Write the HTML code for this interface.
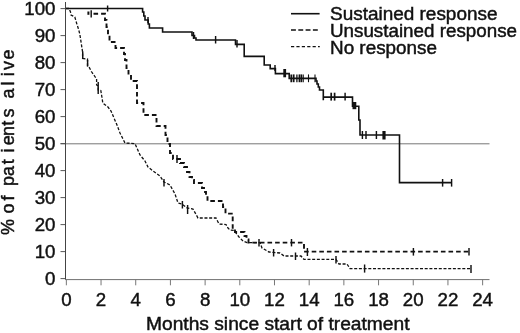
<!DOCTYPE html>
<html><head><meta charset="utf-8"><title>Survival</title>
<style>
html,body{margin:0;padding:0;background:#fff;}
svg{display:block;font-family:"Liberation Sans",sans-serif;font-size:18px;fill:#111;will-change:transform;}
text{stroke:#111;stroke-width:0.45px;}
</style></head><body>
<svg width="520" height="333" viewBox="0 0 520 333">
<rect width="520" height="333" fill="#fff"/>
<line x1="60.5" y1="143.8" x2="489.5" y2="143.8" stroke="#777" stroke-width="1"/>
<line x1="65.5" y1="2" x2="65.5" y2="279.8" stroke="#444" stroke-width="1"/>
<line x1="65.5" y1="279.6" x2="489.5" y2="279.6" stroke="#707070" stroke-width="1"/>
<line x1="60.5" y1="8.60" x2="65.5" y2="8.60" stroke="#444" stroke-width="0.9"/>
<text x="55.5" y="15.40" text-anchor="end" font-size="18.7">100</text>
<line x1="60.5" y1="35.60" x2="65.5" y2="35.60" stroke="#444" stroke-width="0.9"/>
<text x="55.5" y="42.40" text-anchor="end" font-size="18.7">90</text>
<line x1="60.5" y1="62.60" x2="65.5" y2="62.60" stroke="#444" stroke-width="0.9"/>
<text x="55.5" y="69.40" text-anchor="end" font-size="18.7">80</text>
<line x1="60.5" y1="89.60" x2="65.5" y2="89.60" stroke="#444" stroke-width="0.9"/>
<text x="55.5" y="96.40" text-anchor="end" font-size="18.7">70</text>
<line x1="60.5" y1="116.60" x2="65.5" y2="116.60" stroke="#444" stroke-width="0.9"/>
<text x="55.5" y="123.40" text-anchor="end" font-size="18.7">60</text>
<line x1="60.5" y1="143.60" x2="65.5" y2="143.60" stroke="#444" stroke-width="0.9"/>
<text x="55.5" y="150.40" text-anchor="end" font-size="18.7">50</text>
<line x1="60.5" y1="170.60" x2="65.5" y2="170.60" stroke="#444" stroke-width="0.9"/>
<text x="55.5" y="177.40" text-anchor="end" font-size="18.7">40</text>
<line x1="60.5" y1="197.60" x2="65.5" y2="197.60" stroke="#444" stroke-width="0.9"/>
<text x="55.5" y="204.40" text-anchor="end" font-size="18.7">30</text>
<line x1="60.5" y1="224.60" x2="65.5" y2="224.60" stroke="#444" stroke-width="0.9"/>
<text x="55.5" y="231.40" text-anchor="end" font-size="18.7">20</text>
<line x1="60.5" y1="251.60" x2="65.5" y2="251.60" stroke="#444" stroke-width="0.9"/>
<text x="55.5" y="258.40" text-anchor="end" font-size="18.7">10</text>
<line x1="60.5" y1="278.60" x2="65.5" y2="278.60" stroke="#444" stroke-width="0.9"/>
<text x="55.5" y="285.40" text-anchor="end" font-size="18.7">0</text>
<line x1="66.35" y1="279.5" x2="66.35" y2="285.3" stroke="#777" stroke-width="1"/>
<text x="66.35" y="306" text-anchor="middle" font-size="18.7">0</text>
<line x1="101.04" y1="279.5" x2="101.04" y2="285.3" stroke="#777" stroke-width="1"/>
<text x="101.04" y="306" text-anchor="middle" font-size="18.7">2</text>
<line x1="135.73" y1="279.5" x2="135.73" y2="285.3" stroke="#777" stroke-width="1"/>
<text x="135.73" y="306" text-anchor="middle" font-size="18.7">4</text>
<line x1="170.42" y1="279.5" x2="170.42" y2="285.3" stroke="#777" stroke-width="1"/>
<text x="170.42" y="306" text-anchor="middle" font-size="18.7">6</text>
<line x1="205.11" y1="279.5" x2="205.11" y2="285.3" stroke="#777" stroke-width="1"/>
<text x="205.11" y="306" text-anchor="middle" font-size="18.7">8</text>
<line x1="239.80" y1="279.5" x2="239.80" y2="285.3" stroke="#777" stroke-width="1"/>
<text x="239.80" y="306" text-anchor="middle" font-size="18.7">10</text>
<line x1="274.49" y1="279.5" x2="274.49" y2="285.3" stroke="#777" stroke-width="1"/>
<text x="274.49" y="306" text-anchor="middle" font-size="18.7">12</text>
<line x1="309.18" y1="279.5" x2="309.18" y2="285.3" stroke="#777" stroke-width="1"/>
<text x="309.18" y="306" text-anchor="middle" font-size="18.7">14</text>
<line x1="343.87" y1="279.5" x2="343.87" y2="285.3" stroke="#777" stroke-width="1"/>
<text x="343.87" y="306" text-anchor="middle" font-size="18.7">16</text>
<line x1="378.56" y1="279.5" x2="378.56" y2="285.3" stroke="#777" stroke-width="1"/>
<text x="378.56" y="306" text-anchor="middle" font-size="18.7">18</text>
<line x1="413.25" y1="279.5" x2="413.25" y2="285.3" stroke="#777" stroke-width="1"/>
<text x="413.25" y="306" text-anchor="middle" font-size="18.7">20</text>
<line x1="447.94" y1="279.5" x2="447.94" y2="285.3" stroke="#777" stroke-width="1"/>
<text x="447.94" y="306" text-anchor="middle" font-size="18.7">22</text>
<line x1="482.63" y1="279.5" x2="482.63" y2="285.3" stroke="#777" stroke-width="1"/>
<text x="482.63" y="306" text-anchor="middle" font-size="18.7">24</text>
<path d="M66,8.5 H69 L70.5,12 L71,15 L74.8,17 L76,21 L77,24.5 L78,27.5 L79,31 L79.8,34 L81.5,45 L82.6,52 L82.6,58.5 L87.5,59 L87.5,66 L89,67 L91.4,71.5 L94.5,76 L96.6,79 L96.6,85 L98.2,86 L98.2,90 L100.8,90.5 L101.5,94.6 L102.2,99 L102.8,103 L108,107 L111,111 L114,118 L117,125 L120,133 L125,143 L135,143.6 L140,155 L145,161 L148,167 L153,171 L160,176 L164,182 L170,185 L175,194 L178,203 L182,204 L187,208 L193,209 L198,218 L216,218 L218,222 L219,224 L226,224.5 L228,228 L230,230 L234,230.5 L236,233 L239,237 L243,241 L247,242.6 L260,242.6 L262,248 L269,252 L280,253 L284,256 L301,256 L304,259.4 L336,259.4 L339,264 L347,264 L350,268.6 L471,268.6" fill="none" stroke="#111" stroke-width="1.3" stroke-dasharray="3 1.7"/>
<path d="M93.5,13.8 H105 V20 H106.5 V27 H108 V35 H109.5 V42 H115.5 V48 H124 V54 H125 V60 H126.5 V68 H128.5 V75 H131 V81 H137 V103 H143.5 V115 H156.5 V126 H165.5 V135 H167.5 V144 H170 V153 H173 V159 H180 V163 H184 V167 H187 V172 H189.5 V177 H192 V180 H194 V183 H202 V188 H204 V192 H206 V196 H207.5 V201 H223 V207 H225.5 V213.6 H232.7 V229 H235 V232 H244.5 V236 H246.5 V239.5 H248.5 V242.6 H304 V251.6 H469" fill="none" stroke="#111" stroke-width="1.9" stroke-dasharray="4.6 3"/>
<path d="M66,8.5 H142.6 V12 H143.8 V16 H145 V20 H148.2 V24 H149.4 V28 H162.6 V32 H192 V35.5 H194.5 V38 H196 V40 H235.5 V44.4 H244.2 V56.4 H264.2 V65 H270.2 V68.6 H275.4 V73.6 H289.2 V78.4 H316 V81 H317 V84 H318.3 V87 H319.5 V90 H323.3 V100.3 M323.3,97.1 H352.5 V106.3 H358.8 V120 H360 V135 H399.5 V182.6 H452" fill="none" stroke="#111" stroke-width="1.6" stroke-linejoin="miter"/>
<line x1="107.6" y1="5.5" x2="107.6" y2="11.5" stroke="#111" stroke-width="1.45"/>
<line x1="148" y1="17" x2="148" y2="23" stroke="#111" stroke-width="1.45"/>
<line x1="193.5" y1="32" x2="193.5" y2="39" stroke="#111" stroke-width="1.45"/>
<line x1="215.6" y1="36" x2="215.6" y2="43.5" stroke="#111" stroke-width="1.45"/>
<line x1="237" y1="40" x2="237" y2="47.5" stroke="#111" stroke-width="1.45"/>
<line x1="275" y1="65" x2="275" y2="71" stroke="#111" stroke-width="1.45"/>
<line x1="284.7" y1="69" x2="284.7" y2="77.3" stroke="#111" stroke-width="2.8"/>
<line x1="291.2" y1="74.4" x2="291.2" y2="82.2" stroke="#111" stroke-width="1.6"/>
<line x1="293.6" y1="74.4" x2="293.6" y2="82.2" stroke="#111" stroke-width="1.9"/>
<line x1="296.9" y1="74.4" x2="296.9" y2="82.2" stroke="#111" stroke-width="1.3"/>
<line x1="299.4" y1="74.4" x2="299.4" y2="82.2" stroke="#111" stroke-width="1.6"/>
<line x1="301.3" y1="74.4" x2="301.3" y2="82.2" stroke="#111" stroke-width="1.6"/>
<line x1="303.2" y1="74.4" x2="303.2" y2="82.2" stroke="#111" stroke-width="1.2"/>
<line x1="308.5" y1="74.4" x2="308.5" y2="82.2" stroke="#111" stroke-width="1.1"/>
<line x1="315" y1="74.4" x2="315" y2="82.2" stroke="#111" stroke-width="1.1"/>
<line x1="331.2" y1="92.7" x2="331.2" y2="100.6" stroke="#111" stroke-width="1.7"/>
<line x1="334.6" y1="92.7" x2="334.6" y2="100.6" stroke="#111" stroke-width="1.7"/>
<line x1="345.1" y1="92.7" x2="345.1" y2="100.6" stroke="#111" stroke-width="1.45"/>
<line x1="354.4" y1="102" x2="354.4" y2="109.2" stroke="#111" stroke-width="3.8"/>
<line x1="362.4" y1="131" x2="362.4" y2="139" stroke="#111" stroke-width="1.45"/>
<line x1="366" y1="131" x2="366" y2="139" stroke="#111" stroke-width="1.45"/>
<line x1="376.4" y1="131" x2="376.4" y2="139" stroke="#111" stroke-width="1.45"/>
<line x1="384" y1="131" x2="384" y2="139.5" stroke="#111" stroke-width="3.2"/>
<line x1="442.6" y1="179" x2="442.6" y2="186.6" stroke="#111" stroke-width="1.45"/>
<line x1="451.6" y1="179" x2="451.6" y2="186.6" stroke="#111" stroke-width="1.45"/>
<line x1="88.4" y1="11.5" x2="88.4" y2="14.8" stroke="#111" stroke-width="2"/>
<line x1="91.2" y1="10.3" x2="91.2" y2="17.5" stroke="#111" stroke-width="1.45"/>
<line x1="177" y1="155" x2="177" y2="163" stroke="#111" stroke-width="1.45"/>
<line x1="259" y1="239" x2="259" y2="246.4" stroke="#111" stroke-width="1.45"/>
<line x1="291.5" y1="239" x2="291.5" y2="246.4" stroke="#111" stroke-width="1.45"/>
<line x1="307.4" y1="248" x2="307.4" y2="256" stroke="#111" stroke-width="1.45"/>
<line x1="413.4" y1="248" x2="413.4" y2="255.6" stroke="#111" stroke-width="1.45"/>
<line x1="469" y1="248" x2="469" y2="255.6" stroke="#111" stroke-width="1.45"/>
<line x1="82.7" y1="51.5" x2="82.7" y2="59" stroke="#111" stroke-width="1.45"/>
<line x1="87.6" y1="60" x2="87.6" y2="66.5" stroke="#111" stroke-width="1.45"/>
<line x1="98.2" y1="82" x2="98.2" y2="94" stroke="#111" stroke-width="1.45"/>
<line x1="164" y1="179" x2="164" y2="186.5" stroke="#111" stroke-width="1.45"/>
<line x1="182.4" y1="201" x2="182.4" y2="208.5" stroke="#111" stroke-width="1.45"/>
<line x1="187.6" y1="205" x2="187.6" y2="214" stroke="#111" stroke-width="1.45"/>
<line x1="273.6" y1="249" x2="273.6" y2="256.5" stroke="#111" stroke-width="1.45"/>
<line x1="295.5" y1="252.5" x2="295.5" y2="260" stroke="#111" stroke-width="1.45"/>
<line x1="336" y1="256" x2="336" y2="263.4" stroke="#111" stroke-width="1.45"/>
<line x1="364.6" y1="264.5" x2="364.6" y2="272.6" stroke="#111" stroke-width="1.45"/>
<line x1="471" y1="265" x2="471" y2="273" stroke="#111" stroke-width="1.45"/>
<line x1="291" y1="13.7" x2="319.6" y2="13.7" stroke="#111" stroke-width="1.6"/>
<line x1="291" y1="30.1" x2="319.8" y2="30.1" stroke="#111" stroke-width="1.5" stroke-dasharray="4.9 2.4"/>
<line x1="291" y1="46.6" x2="319.8" y2="46.6" stroke="#111" stroke-width="1.15" stroke-dasharray="3.2 2.2"/>
<text x="330" y="20" textLength="167.5" lengthAdjust="spacingAndGlyphs">Sustained response</text>
<text x="330" y="36.8" textLength="187" lengthAdjust="spacingAndGlyphs">Unsustained response</text>
<text x="330" y="53.5" textLength="107" lengthAdjust="spacingAndGlyphs">No response</text>
<text x="146" y="329.9" textLength="263.5" lengthAdjust="spacingAndGlyphs">Months since start of treatment</text>
<text transform="translate(14.2,234.6) rotate(-90)" x="-0.5 16 21 34 39 48.5 58.5 70.3 82 89.4 98.6 108.8 117 126 136 149.2 158.4 164.6 175">% of patients alive</text>
</svg>
</body></html>
